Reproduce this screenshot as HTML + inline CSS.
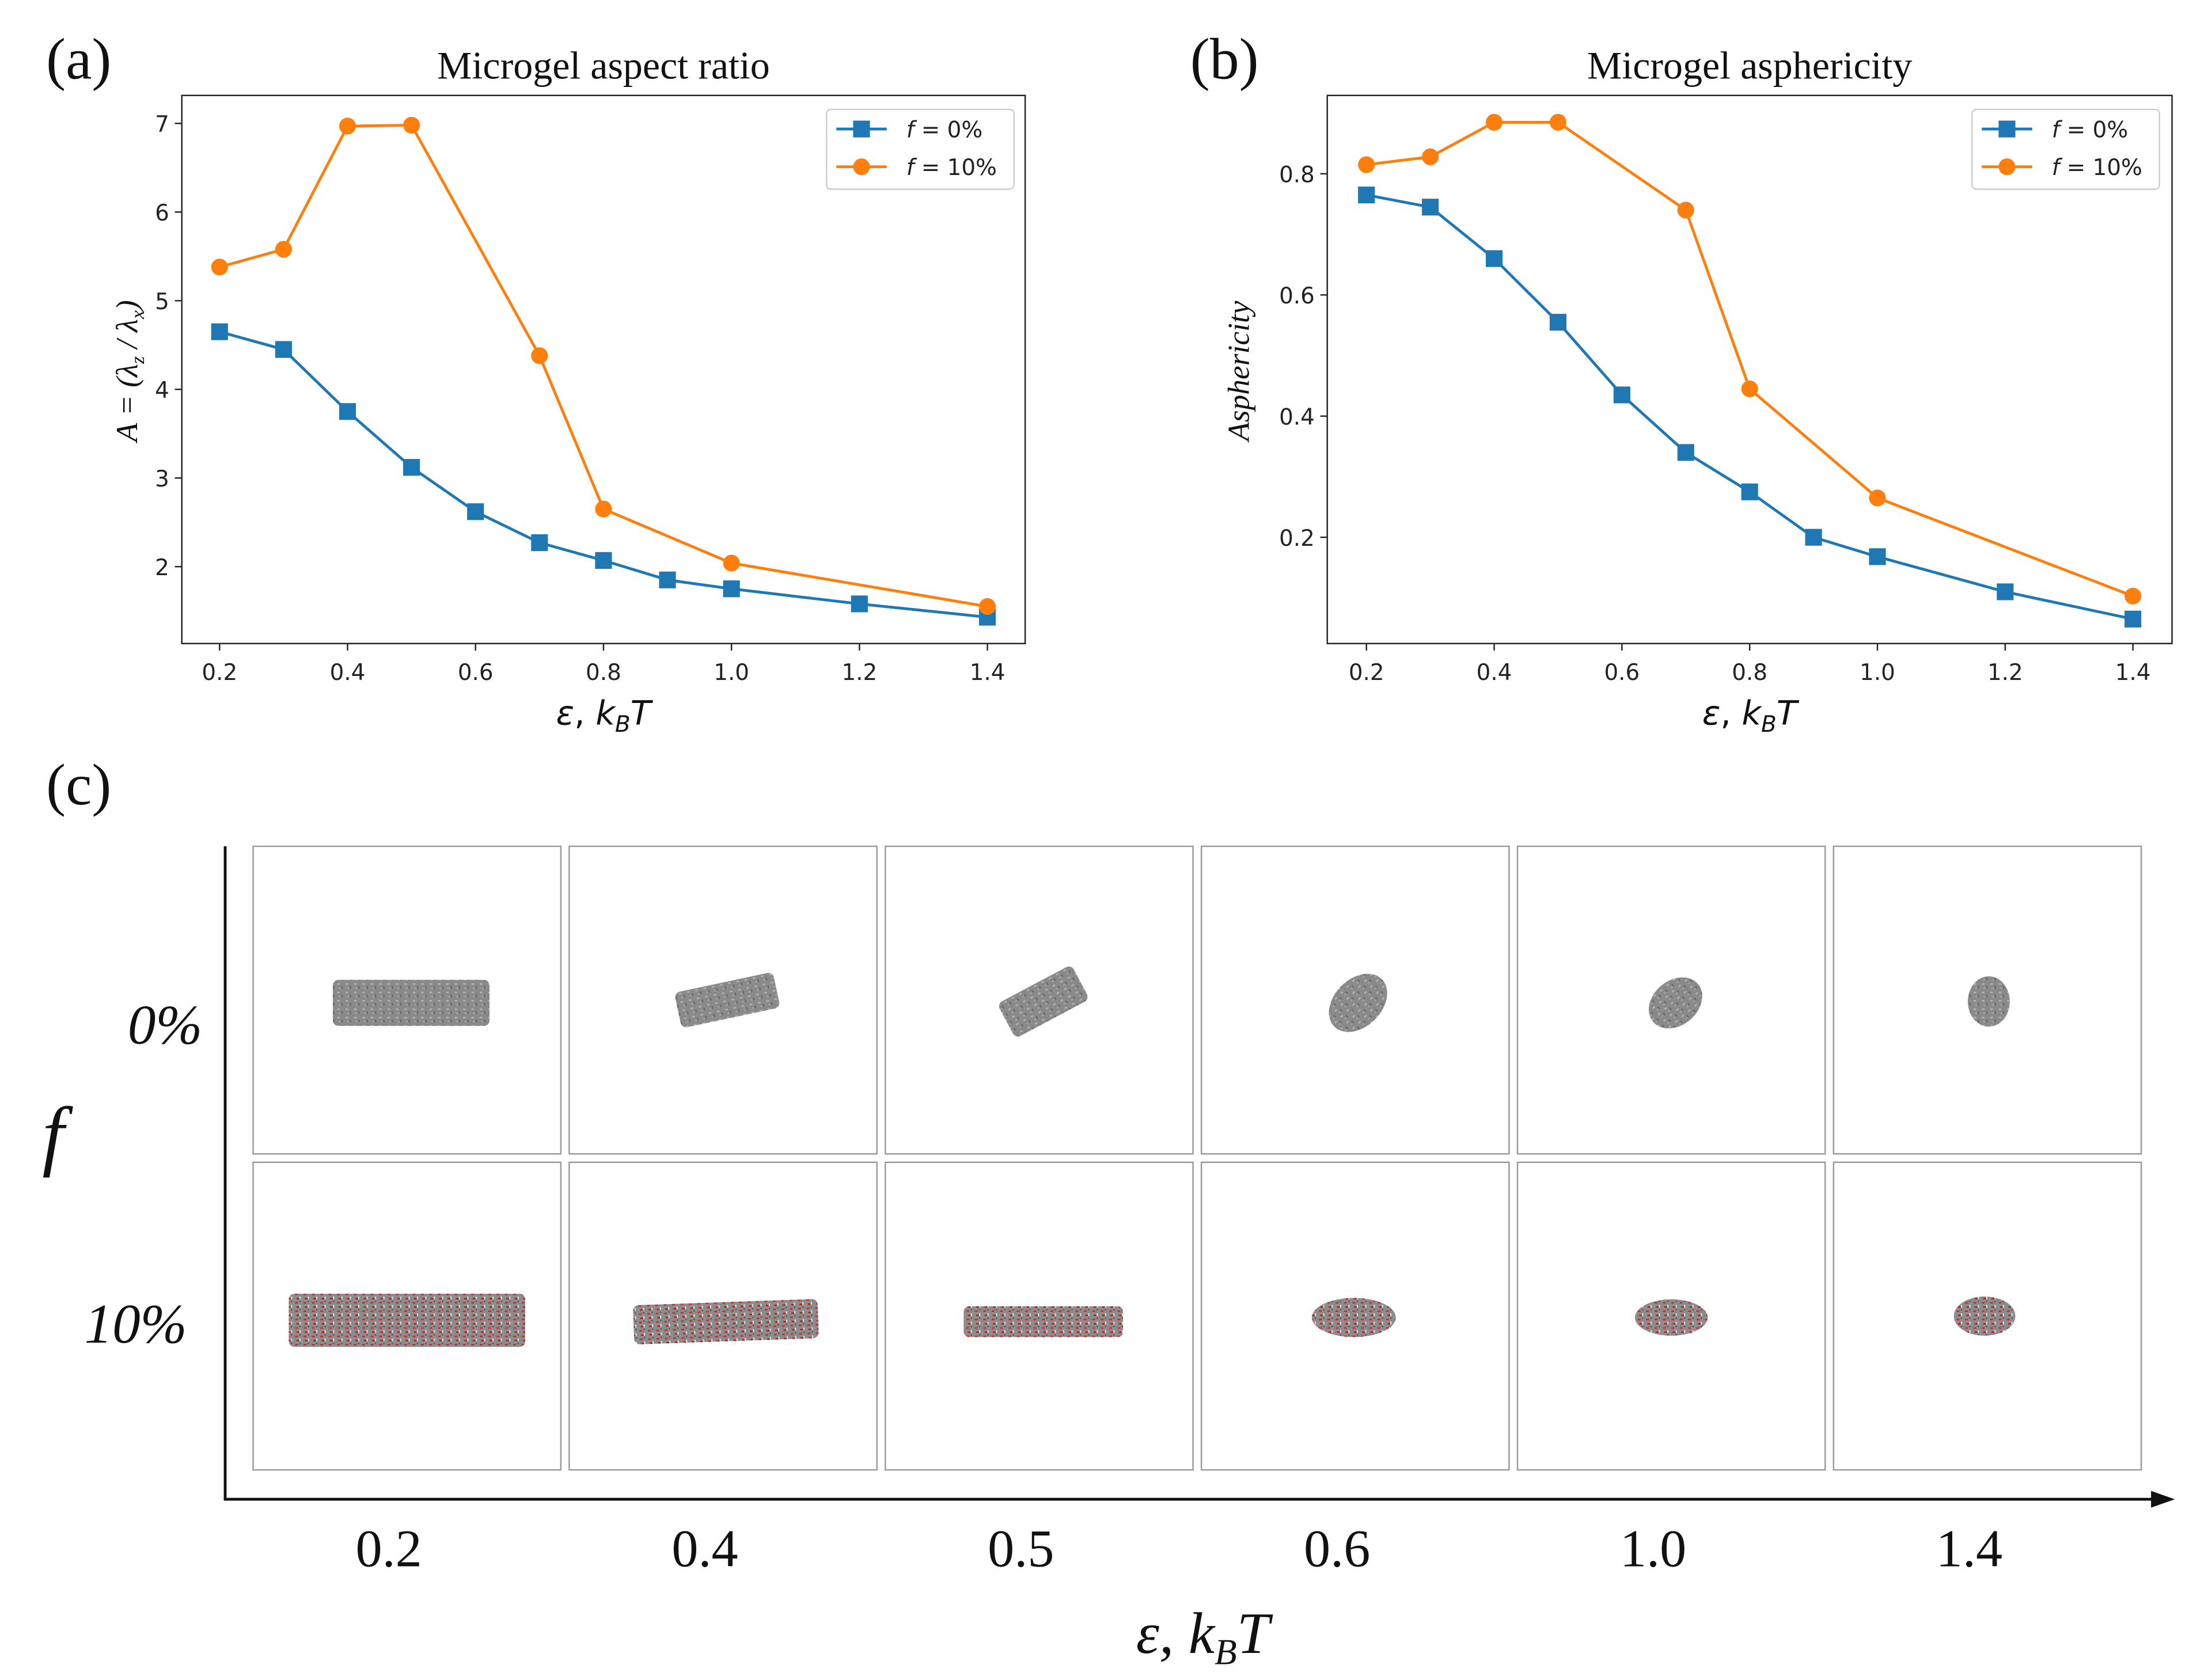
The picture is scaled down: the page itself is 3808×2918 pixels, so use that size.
<!DOCTYPE html>
<html><head><meta charset="utf-8">
<style>
html,body{margin:0;padding:0;background:#fff;}
svg{display:block;}
.tick{font-family:"DejaVu Sans","Liberation Sans",sans-serif;font-size:16px;fill:#222;}
.serif{font-family:"Liberation Serif","DejaVu Serif",serif;fill:#111;}
.sans{font-family:"DejaVu Sans","Liberation Sans",sans-serif;fill:#111;}
</style></head>
<body>
<svg id="fig" width="3808" height="2918" viewBox="0 0 1568 1201" xmlns="http://www.w3.org/2000/svg">
<defs>
<pattern id="grayNoise" width="6" height="6" patternUnits="userSpaceOnUse">
<rect width="6" height="6" fill="#8a8a8a"/><rect x="1" y="1" width="2" height="1" fill="#b5b5b5"/><rect x="4" y="3" width="1" height="2" fill="#666"/><rect x="2" y="4" width="2" height="1" fill="#a0a0a0"/>
</pattern>
<pattern id="redNoise" width="6" height="6" patternUnits="userSpaceOnUse">
<rect width="6" height="6" fill="#8c8c8c"/><rect x="1" y="1" width="2" height="1" fill="#c22"/><rect x="4" y="3" width="1" height="2" fill="#d9d9d9"/><rect x="2" y="4" width="2" height="1" fill="#b11"/><rect x="4" y="0" width="1" height="1" fill="#555"/>
</pattern>
</defs>
<g id="root"></g>
</svg>
<script>
// ---- data ----
const xsBlueA = [0.2,0.3,0.4,0.5,0.6,0.7,0.8,0.9,1.0,1.2,1.4];
const valsBlueA = [4.65,4.45,3.75,3.12,2.62,2.27,2.07,1.85,1.75,1.58,1.43];
const xsOrangeA = [0.2,0.3,0.4,0.5,0.7,0.8,1.0,1.4];
const valsOrangeA = [5.38,5.58,6.97,6.98,4.38,2.65,2.04,1.55];
const xsBlueB = [0.2,0.3,0.4,0.5,0.6,0.7,0.8,0.9,1.0,1.2,1.4];
const valsBlueB = [0.765,0.745,0.66,0.555,0.435,0.34,0.275,0.20,0.168,0.11,0.065];
const xsOrangeB = [0.2,0.3,0.4,0.5,0.7,0.8,1.0,1.4];
const valsOrangeB = [0.815,0.828,0.885,0.885,0.74,0.445,0.265,0.103];
const xTicks = [0.2,0.4,0.6,0.8,1.0,1.2,1.4];
const yTicksA = [2,3,4,5,6,7];
const yTicksB = [0.2,0.4,0.6,0.8];
const epsLabelsC = ["0.2","0.4","0.5","0.6","1.0","1.4"];

const NS="http://www.w3.org/2000/svg";
const root=document.getElementById('root');
function mk(tag,attrs,parent,text){const e=document.createElementNS(NS,tag);for(const k in attrs)e.setAttribute(k,attrs[k]);if(text!==undefined)e.textContent=text;(parent||root).appendChild(e);return e;}

function panel(opt){
  const g=mk('g',{});
  
  
  const {x0,x1,y0,y1}=opt.box;
  const sx=v=>opt.xa+(v-0.2)*opt.xk;
  const sy=v=>opt.ya-(v-opt.yb)*opt.yk;
  const fr=mk('rect',{x:x0,y:y0,width:x1-x0,height:y1-y0,fill:'none',stroke:'#222','stroke-width':1},g);
  
  
  xTicks.forEach(t=>{
    mk('line',{x1:sx(t),x2:sx(t),y1:y1,y2:y1+5,stroke:'#222'},g);
    const tl=mk('text',{x:sx(t),y:y1+26,'text-anchor':'middle',class:'tick'},g,t.toFixed(1));
    
    
  });
  opt.yTicks.forEach(t=>{
    mk('line',{x1:x0-5,x2:x0,y1:sy(t),y2:sy(t),stroke:'#222'},g);
    const tl=mk('text',{x:x0-9,y:sy(t)+6,'text-anchor':'end',class:'tick'},g,opt.yFmt(t));
    
    
  });
  const series=[[opt.xsB,opt.vB,'#1f77b4','sq','series-f-0'],[opt.xsO,opt.vO,'#ff7f0e','ci','series-f-10']];
  series.forEach(([xs,vs,c,m,n])=>{
    const pts=xs.map((x,i)=>sx(x)+','+sy(vs[i])).join(' ');
    const pl=mk('polyline',{points:pts,fill:'none',stroke:c,'stroke-width':2},g);
    
    
    xs.forEach((x,i)=>{
      let e;
      if(m==='sq') e=mk('rect',{x:sx(x)-6,y:sy(vs[i])-6,width:12,height:12,fill:c},g);
      else e=mk('circle',{cx:sx(x),cy:sy(vs[i]),r:6,fill:c},g);
      
      
    });
  });
  const lx=opt.leg[0],ly=opt.leg[1];
  const lg=mk('g',{},g);
  
  
  mk('rect',{x:lx,y:ly,width:134,height:57,rx:3,fill:'#fff',stroke:'#ccc'},lg);
  [['#1f77b4','sq','0%',14],['#ff7f0e','ci','10%',41]].forEach(([c,m,t,dy])=>{
    mk('line',{x1:lx+7,x2:lx+43,y1:ly+dy,y2:ly+dy,stroke:c,'stroke-width':2},lg);
    if(m==='sq') mk('rect',{x:lx+19,y:ly+dy-6,width:12,height:12,fill:c},lg);
    else mk('circle',{cx:lx+25,cy:ly+dy,r:6,fill:c},lg);
    const tx=mk('text',{x:lx+57,y:ly+dy+6,class:'tick'},lg);
    
    
    mk('tspan',{'font-style':'italic'},tx,'f');
    mk('tspan',{},tx,' = '+t);
  });
  const ti=mk('text',{x:(x0+x1)/2,y:56,'text-anchor':'middle',class:'serif','font-size':28},g,opt.title);
  
  
  const pl=mk('text',{x:opt.lbl,y:56,class:'serif','font-size':42},g,opt.letter);
  
  
  const xt=mk('text',{x:(x0+x1)/2,y:518,'text-anchor':'middle',class:'sans','font-size':24},g);
  
  
  mk('tspan',{'font-style':'italic'},xt,'ε');
  mk('tspan',{},xt,', ');
  mk('tspan',{'font-style':'italic'},xt,'k');
  mk('tspan',{'font-size':16,dy:5,'font-style':'italic'},xt,'B');
  mk('tspan',{dy:-5,'font-style':'italic'},xt,'T');
  return g;
}

panel({name:'aspect-ratio-chart',box:{x0:130,x1:733,y0:68,y1:460},xa:157,xk:457.5,ya:405,yb:2,yk:63.4,
  yTicks:yTicksA,yFmt:t=>String(t),xsB:xsBlueA,vB:valsBlueA,xsO:xsOrangeA,vO:valsOrangeA,leg:[591,78],
  title:'Microgel aspect ratio',letter:'(a)',lbl:33});
panel({name:'asphericity-chart',box:{x0:949,x1:1553,y0:68,y1:460},xa:977,xk:456.7,ya:384,yb:0.2,yk:433.3,
  yTicks:yTicksB,yFmt:t=>t.toFixed(1),xsB:xsBlueB,vB:valsBlueB,xsO:xsOrangeB,vO:valsOrangeB,leg:[1410,78],
  title:'Microgel asphericity',letter:'(b)',lbl:851});

let yt=mk('text',{transform:'translate(98,265) rotate(-90)','text-anchor':'middle',class:'serif','font-size':22,'font-style':'italic'});


mk('tspan',{},yt,'A = (λ');mk('tspan',{'font-size':14,dy:5},yt,'z');mk('tspan',{dy:-5},yt,' / λ');mk('tspan',{'font-size':14,dy:5},yt,'x');mk('tspan',{dy:-5},yt,')');
yt=mk('text',{transform:'translate(893,265) rotate(-90)','text-anchor':'middle',class:'serif','font-size':22,'font-style':'italic'},root,'Asphericity');



const gc=mk('g',{});


let t=mk('text',{x:33,y:575,class:'serif','font-size':42},gc,'(c)');


mk('line',{x1:161,y1:605,x2:161,y2:1072,stroke:'#111','stroke-width':2},gc);
mk('line',{x1:160,y1:1072,x2:1545,y2:1072,stroke:'#111','stroke-width':2},gc);
mk('polygon',{points:'1555,1072 1538,1066 1538,1078',fill:'#111'},gc);
const colX=[181,407,633,859,1085,1311];
const shapesTop=[['r',294,717,112,33,0],['r',520,715,72,26,-12],['r',746,716,60,28,-28],['e',971,717,24,17,-45],['e',1198,717,21,16,-40],['e',1422,716,15,18,0]];
const shapesBot=[['r',291,944,169,38,0],['r',519,945,132,28,-2],['r',746,945,114,22,0],['e',968,942,30,14,0],['e',1195,942,26,13,0],['e',1419,941,22,14,0]];
colX.forEach((x,i)=>{
  [[605,shapesTop[i],'url(#grayNoise)','top'],[831,shapesBot[i],'url(#redNoise)','bottom']].forEach(([y,s,fill,row])=>{
    const b=mk('rect',{x:x,y:y,width:220,height:220,fill:'#fff',stroke:'#999','stroke-width':1},gc);
    
    
    let e;
    if(s[0]==='r') e=mk('rect',{x:s[1]-s[3]/2,y:s[2]-s[4]/2,width:s[3],height:s[4],rx:4,fill:fill,transform:`rotate(${s[5]} ${s[1]} ${s[2]})`},gc);
    else e=mk('ellipse',{cx:s[1],cy:s[2],rx:s[3],ry:s[4],fill:fill,transform:`rotate(${s[5]} ${s[1]} ${s[2]})`},gc);
    
    
  });
  const l=mk('text',{x:x+97,y:1120,'text-anchor':'middle',class:'serif','font-size':38},gc,epsLabelsC[i]);
  
  
});
t=mk('text',{x:118,y:746,'text-anchor':'middle',class:'serif','font-size':40,'font-style':'italic'},gc,'0%');

t=mk('text',{x:97,y:960,'text-anchor':'middle',class:'serif','font-size':40,'font-style':'italic'},gc,'10%');

t=mk('text',{x:38,y:830,'text-anchor':'middle',class:'serif','font-size':56,'font-style':'italic'},gc,'f');

t=mk('text',{x:860,y:1182,'text-anchor':'middle',class:'serif','font-size':42,'font-style':'italic'},gc);

mk('tspan',{},t,'ε,  k');mk('tspan',{'font-size':26,dy:8},t,'B');mk('tspan',{dy:-8},t,'T');
</script>
</body></html>
